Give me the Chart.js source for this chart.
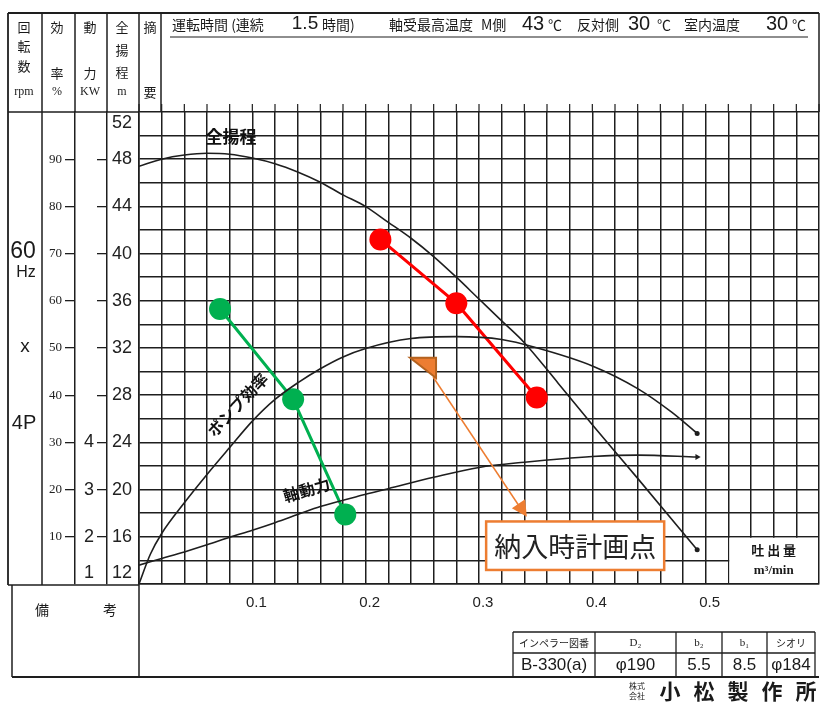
<!DOCTYPE html>
<html><head><meta charset="utf-8">
<script src="https://cdn.jsdelivr.net/npm/chart.js@4.4.1/dist/chart.umd.min.js"></script>
<style>html,body{margin:0;padding:0;background:#fff;}canvas{display:block;}</style>
</head><body>
<canvas id="c" width="820" height="702"></canvas>
<script>
// ---- data ----
const flowHead = [0, 0.02, 0.04, 0.06, 0.08, 0.10, 0.12, 0.14, 0.16, 0.18, 0.20, 0.22, 0.24, 0.26, 0.28, 0.30, 0.32, 0.34, 0.37, 0.40, 0.44, 0.4925];
const headM    = [47.4, 48.0, 48.35, 48.5, 48.42, 48.1, 47.62, 46.92, 46.05, 44.98, 43.98, 42.65, 41.3, 39.75, 38.0, 36.15, 34.3, 32.45, 29.0, 25.5, 20.95, 14.9];

const flowEff = [0, 0.01, 0.02, 0.04, 0.06, 0.08, 0.10, 0.12, 0.14, 0.16, 0.18, 0.20, 0.24, 0.28, 0.32, 0.35, 0.40, 0.44, 0.47, 0.4925];
const effPct  = [0, 6.3, 10.7, 17.2, 23.2, 28.9, 34.5, 39.1, 42.6, 45.6, 48.1, 49.9, 52.0, 52.4, 51.8, 50.1, 46.2, 41.4, 36.4, 31.9];

const flowPow = [0, 0.02, 0.04, 0.06, 0.08, 0.10, 0.12, 0.14, 0.16, 0.20, 0.22, 0.26, 0.30, 0.34, 0.40, 0.44, 0.4925];
const powerKW = [1.40, 1.54, 1.68, 1.83, 1.99, 2.14, 2.30, 2.47, 2.64, 2.90, 3.02, 3.26, 3.47, 3.58, 3.70, 3.73, 3.69];

const redFlow   = [0.213, 0.280, 0.351];
const redHead   = [41.2, 35.8, 27.8];
const greenFlow = [0.0715, 0.136, 0.182];
const greenHead = [35.3, 27.65, 17.9];

const flowTickLabels  = ['0.1', '0.2', '0.3', '0.4', '0.5'];
const headTickLabels  = [52, 48, 44, 40, 36, 32, 28, 24, 20, 16, 12];
const effTickLabels   = [10, 20, 30, 40, 50, 60, 70, 80, 90];
const powerTickLabels = [1, 2, 3, 4];

// annotation anchors in data units (flow m3/min, head m)
const planArrow = {
  headA: [[0.2392, 31.18], [0.2621, 31.18], [0.2621, 29.46]],
  shaft: [[0.2595, 29.54], [0.3354, 18.61]],
  headB: [[0.329, 18.42], [0.3407, 19.18], [0.3422, 17.7]]
};
const planBox = { x0: 0.3063, x1: 0.4634, y0: 17.3, y1: 13.19, text: '納入時計画点' };
const curveLabels = [
  { text: '全揚程', q: 0.0812, h: 49.9, rot: 0, size: 17 },
  { text: 'ポンプ効率', q: 0.087, h: 27.2, rot: -47, size: 16 },
  { text: '軸動力', q: 0.148, h: 19.97, rot: -16, size: 16 }
];

// ---- helpers ----
const INK = '#1e1e1e';
const JP = '"Noto Sans CJK JP"';
const pts = (xs, ys) => xs.map((x, i) => ({ x: x, y: ys[i] }));
const near = (a, b) => Math.abs(a - b) < 1e-6;
function txt(g, s, x, y, font, align, color) {
  g.font = font; g.textAlign = align || 'center'; g.textBaseline = 'middle';
  g.fillStyle = color || '#1a1a1a'; g.fillText(s, x, y);
}
function ln(g, x1, y1, x2, y2, w) {
  g.beginPath(); g.moveTo(x1, y1); g.lineTo(x2, y2);
  g.lineWidth = w || 1.5; g.strokeStyle = INK; g.stroke();
}
const endDot = ctx => ctx.dataIndex === ctx.dataset.data.length - 1 ? 2.5 : 0;

const sheet = {
  id: 'sheet',
  beforeDraw(c) {
    const g = c.ctx; g.save(); g.fillStyle = '#fff'; g.fillRect(0, 0, c.width, c.height); g.restore();
  },
  beforeDatasetsDraw(c) {
    const g = c.ctx, sx = c.scales.x, sy = c.scales.yH;
    // 吐出量 label box (no grid inside)
    const bx = sx.getPixelForValue(0.52), by = sy.getPixelForValue(16);
    g.save();
    g.fillStyle = '#fff';
    g.fillRect(bx + 1, by + 1, c.chartArea.right - bx - 2, c.chartArea.bottom - by - 2);
    txt(g, '吐 出 量', (bx + c.chartArea.right) / 2, by + 13, 'bold 13px ' + JP);
    txt(g, 'm³/min', (bx + c.chartArea.right) / 2, by + 34, 'bold 13px "Liberation Serif"');
    g.restore();
  },
  afterDatasetsDraw(c) {
    const g = c.ctx, sx = c.scales.x, sy = c.scales.yH;
    const P = a => [sx.getPixelForValue(a[0]), sy.getPixelForValue(a[1])];
    g.save();
    // curve labels
    curveLabels.forEach(l => {
      const p = P([l.q, l.h]);
      g.save(); g.translate(p[0], p[1]); g.rotate(l.rot * Math.PI / 180);
      txt(g, l.text, 0, 0, 'bold ' + l.size + 'px ' + JP, 'center', '#111');
      g.restore();
    });
    // orange double arrow
    const tri = (arr, fill, stroke) => {
      g.beginPath();
      arr.forEach((a, i) => { const p = P(a); i ? g.lineTo(p[0], p[1]) : g.moveTo(p[0], p[1]); });
      g.closePath(); g.fillStyle = fill; g.fill();
      if (stroke) { g.lineWidth = 2; g.strokeStyle = stroke; g.stroke(); }
    };
    const s0 = P(planArrow.shaft[0]), s1 = P(planArrow.shaft[1]);
    g.beginPath(); g.moveTo(s0[0], s0[1]); g.lineTo(s1[0], s1[1]);
    g.lineWidth = 1.5; g.strokeStyle = '#ED7D31'; g.stroke();
    tri(planArrow.headA, '#ED7D31', '#B4621F');
    tri(planArrow.headB, '#ED7D31');
    // plan box
    const b0 = P([planBox.x0, planBox.y0]), b1 = P([planBox.x1, planBox.y1]);
    g.fillStyle = '#fff'; g.fillRect(b0[0], b0[1], b1[0] - b0[0], b1[1] - b0[1]);
    g.lineWidth = 2.5; g.strokeStyle = '#ED7D31'; g.strokeRect(b0[0], b0[1], b1[0] - b0[0], b1[1] - b0[1]);
    txt(g, planBox.text, (b0[0] + b1[0]) / 2, (b0[1] + b1[1]) / 2 + 1, '27px ' + JP, 'center', '#222');
    g.restore();
  },
  afterDraw(c) {
    const g = c.ctx, a = c.chartArea, sx = c.scales.x;
    const L = 8, T = 13, R = a.right, HB = a.top;
    g.save();
    // outer frame / header
    ln(g, L, T, R, T, 1.8);
    ln(g, L, T, L, a.bottom + 1, 1.8);
    ln(g, R, T, R, HB, 1.5);
    ln(g, L, HB, a.left, HB, 1.5);
    ln(g, 42, T, 42, a.bottom + 1, 1.5);
    [75, 107, 139, 161].forEach(x => ln(g, x, T, x, HB, 1.5));
    ln(g, L, a.bottom + 1, a.left, a.bottom + 1, 1.5);
    // grid stubs above plot
    sx.ticks.forEach(t => { const x = sx.getPixelForValue(t.value); ln(g, x, HB - 8, x, HB, 1.2); });
    // remarks box and bottom line
    ln(g, 12, a.bottom + 1, 12, 677, 1.5);
    ln(g, 12, 677, R, 677, 1.8);
    ln(g, a.left, a.bottom, a.left, 677, 1.5);
    txt(g, '備', 42, 610, '14px ' + JP);
    txt(g, '考', 110, 610, '14px ' + JP);
    // header column titles
    const hf = '13px ' + JP, sf = '12px "Liberation Serif"';
    txt(g, '回', 24, 27, hf); txt(g, '転', 24, 46, hf); txt(g, '数', 24, 66, hf); txt(g, 'rpm', 24, 92, sf);
    txt(g, '効', 57, 27, hf); txt(g, '率', 57, 73, hf); txt(g, '%', 57, 92, sf);
    txt(g, '動', 90, 27, hf); txt(g, '力', 90, 73, hf); txt(g, 'KW', 90, 92, sf);
    txt(g, '全', 122, 27, hf); txt(g, '揚', 122, 50, hf); txt(g, '程', 122, 72, hf); txt(g, 'm', 122, 92, sf);
    txt(g, '摘', 150, 27, hf); txt(g, '要', 150, 92, hf);
    // header operating conditions
    const cf = '14px ' + JP, nf = '20px "Liberation Sans"';
    txt(g, '運転時間 (連続', 172, 25, cf, 'left');
    txt(g, '1.5', 305, 24, '19px "Liberation Sans"');
    txt(g, '時間)', 322, 25, cf, 'left');
    txt(g, '軸受最高温度', 389, 25, cf, 'left');
    txt(g, 'M側', 481, 25, cf, 'left');
    txt(g, '43', 533, 24, nf); txt(g, '℃', 548, 25, cf, 'left');
    txt(g, '反対側', 577, 25, cf, 'left');
    txt(g, '30', 639, 24, nf); txt(g, '℃', 657, 25, cf, 'left');
    txt(g, '室内温度', 684, 25, cf, 'left');
    txt(g, '30', 777, 24, nf); txt(g, '℃', 792, 25, cf, 'left');
    ln(g, 170, 37, 808, 37, 1.2);
    // rpm column
    txt(g, '60', 23, 252, '23px "Liberation Sans"');
    txt(g, 'Hz', 26, 273, '16px "Liberation Sans"');
    txt(g, 'x', 25, 347, '19px "Liberation Sans"');
    txt(g, '4P', 24, 423, '20px "Liberation Sans"');
    // impeller table
    const cols = [513, 595, 676, 722, 767, 815];
    ln(g, cols[0], 632, cols[5], 632, 1.5); ln(g, cols[0], 653, cols[5], 653, 1.3);
    cols.forEach(x => ln(g, x, 632, x, 677, 1.3));
    const head = ['インペラー図番', 'D₂', 'b₂', 'b₁', 'シオリ'];
    const vals = ['B-330(a)', 'φ190', '5.5', '8.5', 'φ184'];
    head.forEach((s, i) => txt(g, s, (cols[i] + cols[i + 1]) / 2, 643, (i === 1 || i === 2 || i === 3 ? '11px "Liberation Serif"' : '10px ' + JP)));
    vals.forEach((s, i) => txt(g, s, (cols[i] + cols[i + 1]) / 2, 665, '17px "Liberation Sans"'));
    // maker
    txt(g, '株式', 637, 686, '8px ' + JP); txt(g, '会社', 637, 696, '8px ' + JP);
    ['小', '松', '製', '作', '所'].forEach((s, i) => txt(g, s, 670 + i * 34, 691, 'bold 21px ' + JP));
    g.restore();
  }
};

function build() {
  const ctx = document.getElementById('c').getContext('2d');
  new Chart(ctx, {
    type: 'scatter',
    data: {
      datasets: [
        { label: '全揚程', data: pts(flowHead, headM), yAxisID: 'yH', showLine: true,
          borderColor: INK, backgroundColor: INK, borderWidth: 1.6, cubicInterpolationMode: 'monotone',
          pointRadius: endDot, pointBorderWidth: 0 },
        { label: 'ポンプ効率', data: pts(flowEff, effPct), yAxisID: 'yE', showLine: true,
          borderColor: INK, backgroundColor: INK, borderWidth: 1.6, cubicInterpolationMode: 'monotone',
          pointRadius: endDot, pointBorderWidth: 0 },
        { label: '軸動力', data: pts(flowPow, powerKW), yAxisID: 'yP', showLine: true,
          borderColor: INK, backgroundColor: INK, borderWidth: 1.6, cubicInterpolationMode: 'monotone',
          pointRadius: ctx => ctx.dataIndex === ctx.dataset.data.length - 1 ? 3.5 : 0,
          pointStyle: 'triangle', rotation: 90, pointBorderWidth: 0 },
        { label: 'red', data: pts(redFlow, redHead), yAxisID: 'yH', showLine: true,
          borderColor: '#FF0000', backgroundColor: '#FF0000', borderWidth: 3, pointRadius: 11, pointBorderWidth: 0 },
        { label: 'green', data: pts(greenFlow, greenHead), yAxisID: 'yH', showLine: true,
          borderColor: '#00B050', backgroundColor: '#00B050', borderWidth: 3, pointRadius: 11, pointBorderWidth: 0 }
      ]
    },
    options: {
      responsive: false, animation: false, devicePixelRatio: 1,
      layout: { autoPadding: false, padding: { left: 42, top: 112, right: 1, bottom: 88 } },
      plugins: { legend: { display: false }, tooltip: { enabled: false } },
      scales: {
        x: {
          type: 'linear', position: 'bottom', min: 0, max: 0.6,
          ticks: { stepSize: 0.02, autoSkip: false, maxRotation: 0, padding: 0, labelOffset: 4, color: '#222',
            font: { family: 'Liberation Sans', size: 15 },
            callback: v => { const s = (Math.round(v * 100) / 100).toFixed(1); return (Math.round(v * 100) % 10 === 0 && flowTickLabels.includes(s)) ? s : ''; } },
          grid: { color: INK, lineWidth: 1.5, drawTicks: true, tickLength: 10, tickColor: 'rgba(0,0,0,0)' },
          border: { color: INK, width: 1.6 },
          afterFit: s => { s.height = 30; s.paddingLeft = 0; s.paddingRight = 0; }
        },
        yH: {
          type: 'linear', position: 'left', weight: 0, min: 12, max: 52,
          ticks: { stepSize: 2, autoSkip: false, padding: 7, color: '#222',
            font: { family: 'Liberation Sans', size: 18 },
            callback: v => headTickLabels.includes(v) ? (v === 52 ? ['', '52'] : v === 12 ? ['12', ''] : String(v)) : '' },
          grid: { color: INK, lineWidth: 1.5, drawTicks: false },
          border: { color: INK, width: 1.6 },
          afterFit: s => { s.width = 32; }
        },
        yP: {
          type: 'linear', position: 'left', weight: 1, min: 1, max: 11,
          ticks: { stepSize: 1, autoSkip: false, padding: 3, color: '#222',
            font: { family: 'Liberation Sans', size: 18 },
            callback: v => powerTickLabels.includes(v) ? (v === 1 ? ['1', ''] : String(v)) : '' },
          grid: { drawOnChartArea: false, drawTicks: true, tickLength: 10, lineWidth: 1.3,
            tickColor: ctx => (ctx.tick && (near(ctx.tick.value, 1) || near(ctx.tick.value, 11))) ? 'rgba(0,0,0,0)' : INK },
          border: { color: INK, width: 1.5 },
          afterFit: s => { s.width = 32; }
        },
        yE: {
          type: 'linear', position: 'left', weight: 2, min: 0, max: 100,
          ticks: { stepSize: 10, autoSkip: false, padding: 3, color: '#222',
            font: { family: 'Liberation Serif', size: 13 },
            callback: v => effTickLabels.includes(v) ? String(v) : '' },
          grid: { drawOnChartArea: false, drawTicks: true, tickLength: 10, lineWidth: 1.3,
            tickColor: ctx => (ctx.tick && (near(ctx.tick.value, 0) || near(ctx.tick.value, 100))) ? 'rgba(0,0,0,0)' : INK },
          border: { color: INK, width: 1.5 },
          afterFit: s => { s.width = 33; }
        }
      }
    },
    plugins: [sheet]
  });
}

const ready = Promise.race([
  Promise.all([
    document.fonts.load('16px "Noto Sans CJK JP"', '納入時計画点'),
    document.fonts.load('bold 16px "Noto Sans CJK JP"', '全揚程'),
    document.fonts.load('16px "Liberation Sans"', '0.1'),
    document.fonts.load('16px "Liberation Serif"', '90')
  ]),
  new Promise(r => setTimeout(r, 800))
]);
ready.then(build, build);
</script>
</body></html>
